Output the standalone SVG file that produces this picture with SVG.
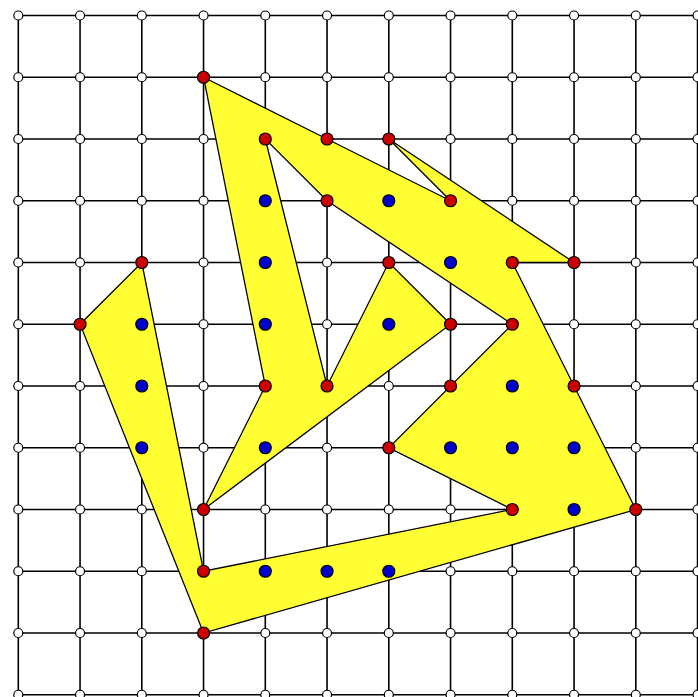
<svg xmlns="http://www.w3.org/2000/svg" width="698" height="697" viewBox="0 0 698 697">
<style>
.g{stroke:#000;stroke-width:1.6;fill:none}
.poly{fill:#ffff33;stroke:#000;stroke-width:1.3;stroke-linejoin:miter}
.w{fill:#fff;stroke:#000;stroke-width:1.2}
.r{fill:#cc0000;stroke:#000;stroke-width:1.2}
.b{fill:#0000cc;stroke:#000;stroke-width:1.2}
</style>
<rect width="698" height="697" fill="#fff"/>
<g id="grid" class="g">
<path d="M18.3 15.5H698M18.3 77.25H698M18.3 139H698M18.3 200.75H698M18.3 262.5H698M18.3 324.25H698M18.3 386H698M18.3 447.75H698M18.3 509.5H698M18.3 571.25H698M18.3 633H698M18.3 694.75H698"/>
<path d="M18.3 15.5V697M80.05 15.5V697M141.8 15.5V697M203.55 15.5V697M265.3 15.5V697M327.05 15.5V697M388.8 15.5V697M450.55 15.5V697M512.3 15.5V697M574.05 15.5V697M635.8 15.5V697M697.55 15.5V697"/>
</g>
<g id="polygon">
<polygon class="poly" points="203.55,77.25 327.05,139 450.55,200.75 388.8,139 574.05,262.5 512.3,262.5 635.8,509.5 203.55,633 80.05,324.25 141.8,262.5 203.55,571.25 512.3,509.5 388.8,447.75 512.3,324.25 327.05,200.75 265.3,139 327.05,386 388.8,262.5 450.55,324.25 203.55,509.5 265.3,386"/>
</g>
<g id="white-points" class="w">
<circle cx="18.3" cy="15.5" r="4.5"/><circle cx="80.05" cy="15.5" r="4.5"/><circle cx="141.8" cy="15.5" r="4.5"/><circle cx="203.55" cy="15.5" r="4.5"/><circle cx="265.3" cy="15.5" r="4.5"/><circle cx="327.05" cy="15.5" r="4.5"/><circle cx="388.8" cy="15.5" r="4.5"/><circle cx="450.55" cy="15.5" r="4.5"/><circle cx="512.3" cy="15.5" r="4.5"/><circle cx="574.05" cy="15.5" r="4.5"/><circle cx="635.8" cy="15.5" r="4.5"/><circle cx="697.55" cy="15.5" r="4.5"/>
<circle cx="18.3" cy="77.25" r="4.5"/><circle cx="80.05" cy="77.25" r="4.5"/><circle cx="141.8" cy="77.25" r="4.5"/><circle cx="265.3" cy="77.25" r="4.5"/><circle cx="327.05" cy="77.25" r="4.5"/><circle cx="388.8" cy="77.25" r="4.5"/><circle cx="450.55" cy="77.25" r="4.5"/><circle cx="512.3" cy="77.25" r="4.5"/><circle cx="574.05" cy="77.25" r="4.5"/><circle cx="635.8" cy="77.25" r="4.5"/><circle cx="697.55" cy="77.25" r="4.5"/>
<circle cx="18.3" cy="139" r="4.5"/><circle cx="80.05" cy="139" r="4.5"/><circle cx="141.8" cy="139" r="4.5"/><circle cx="203.55" cy="139" r="4.5"/><circle cx="450.55" cy="139" r="4.5"/><circle cx="512.3" cy="139" r="4.5"/><circle cx="574.05" cy="139" r="4.5"/><circle cx="635.8" cy="139" r="4.5"/><circle cx="697.55" cy="139" r="4.5"/>
<circle cx="18.3" cy="200.75" r="4.5"/><circle cx="80.05" cy="200.75" r="4.5"/><circle cx="141.8" cy="200.75" r="4.5"/><circle cx="203.55" cy="200.75" r="4.5"/><circle cx="512.3" cy="200.75" r="4.5"/><circle cx="574.05" cy="200.75" r="4.5"/><circle cx="635.8" cy="200.75" r="4.5"/><circle cx="697.55" cy="200.75" r="4.5"/>
<circle cx="18.3" cy="262.5" r="4.5"/><circle cx="80.05" cy="262.5" r="4.5"/><circle cx="203.55" cy="262.5" r="4.5"/><circle cx="327.05" cy="262.5" r="4.5"/><circle cx="635.8" cy="262.5" r="4.5"/><circle cx="697.55" cy="262.5" r="4.5"/>
<circle cx="18.3" cy="324.25" r="4.5"/><circle cx="203.55" cy="324.25" r="4.5"/><circle cx="327.05" cy="324.25" r="4.5"/><circle cx="574.05" cy="324.25" r="4.5"/><circle cx="635.8" cy="324.25" r="4.5"/><circle cx="697.55" cy="324.25" r="4.5"/>
<circle cx="18.3" cy="386" r="4.5"/><circle cx="80.05" cy="386" r="4.5"/><circle cx="203.55" cy="386" r="4.5"/><circle cx="388.8" cy="386" r="4.5"/><circle cx="635.8" cy="386" r="4.5"/><circle cx="697.55" cy="386" r="4.5"/>
<circle cx="18.3" cy="447.75" r="4.5"/><circle cx="80.05" cy="447.75" r="4.5"/><circle cx="203.55" cy="447.75" r="4.5"/><circle cx="327.05" cy="447.75" r="4.5"/><circle cx="635.8" cy="447.75" r="4.5"/><circle cx="697.55" cy="447.75" r="4.5"/>
<circle cx="18.3" cy="509.5" r="4.5"/><circle cx="80.05" cy="509.5" r="4.5"/><circle cx="141.8" cy="509.5" r="4.5"/><circle cx="265.3" cy="509.5" r="4.5"/><circle cx="327.05" cy="509.5" r="4.5"/><circle cx="388.8" cy="509.5" r="4.5"/><circle cx="450.55" cy="509.5" r="4.5"/><circle cx="697.55" cy="509.5" r="4.5"/>
<circle cx="18.3" cy="571.25" r="4.5"/><circle cx="80.05" cy="571.25" r="4.5"/><circle cx="141.8" cy="571.25" r="4.5"/><circle cx="450.55" cy="571.25" r="4.5"/><circle cx="512.3" cy="571.25" r="4.5"/><circle cx="574.05" cy="571.25" r="4.5"/><circle cx="635.8" cy="571.25" r="4.5"/><circle cx="697.55" cy="571.25" r="4.5"/>
<circle cx="18.3" cy="633" r="4.5"/><circle cx="80.05" cy="633" r="4.5"/><circle cx="141.8" cy="633" r="4.5"/><circle cx="265.3" cy="633" r="4.5"/><circle cx="327.05" cy="633" r="4.5"/><circle cx="388.8" cy="633" r="4.5"/><circle cx="450.55" cy="633" r="4.5"/><circle cx="512.3" cy="633" r="4.5"/><circle cx="574.05" cy="633" r="4.5"/><circle cx="635.8" cy="633" r="4.5"/><circle cx="697.55" cy="633" r="4.5"/>
<circle cx="18.3" cy="694.75" r="4.5"/><circle cx="80.05" cy="694.75" r="4.5"/><circle cx="141.8" cy="694.75" r="4.5"/><circle cx="203.55" cy="694.75" r="4.5"/><circle cx="265.3" cy="694.75" r="4.5"/><circle cx="327.05" cy="694.75" r="4.5"/><circle cx="388.8" cy="694.75" r="4.5"/><circle cx="450.55" cy="694.75" r="4.5"/><circle cx="512.3" cy="694.75" r="4.5"/><circle cx="574.05" cy="694.75" r="4.5"/><circle cx="635.8" cy="694.75" r="4.5"/><circle cx="697.55" cy="694.75" r="4.5"/>
</g>
<g id="boundary-points" class="r">
<circle cx="203.55" cy="77.25" r="6"/>
<circle cx="265.3" cy="139" r="6"/><circle cx="327.05" cy="139" r="6"/><circle cx="388.8" cy="139" r="6"/>
<circle cx="327.05" cy="200.75" r="6"/><circle cx="450.55" cy="200.75" r="6"/>
<circle cx="141.8" cy="262.5" r="6"/><circle cx="388.8" cy="262.5" r="6"/><circle cx="512.3" cy="262.5" r="6"/><circle cx="574.05" cy="262.5" r="6"/>
<circle cx="80.05" cy="324.25" r="6"/><circle cx="450.55" cy="324.25" r="6"/><circle cx="512.3" cy="324.25" r="6"/>
<circle cx="265.3" cy="386" r="6"/><circle cx="327.05" cy="386" r="6"/><circle cx="450.55" cy="386" r="6"/><circle cx="574.05" cy="386" r="6"/>
<circle cx="388.8" cy="447.75" r="6"/>
<circle cx="203.55" cy="509.5" r="6"/><circle cx="512.3" cy="509.5" r="6"/><circle cx="635.8" cy="509.5" r="6"/>
<circle cx="203.55" cy="571.25" r="6"/>
<circle cx="203.55" cy="633" r="6"/>
</g>
<g id="interior-points" class="b">
<circle cx="265.3" cy="200.75" r="6"/><circle cx="388.8" cy="200.75" r="6"/>
<circle cx="265.3" cy="262.5" r="6"/><circle cx="450.55" cy="262.5" r="6"/>
<circle cx="141.8" cy="324.25" r="6"/><circle cx="265.3" cy="324.25" r="6"/><circle cx="388.8" cy="324.25" r="6"/>
<circle cx="141.8" cy="386" r="6"/><circle cx="512.3" cy="386" r="6"/>
<circle cx="141.8" cy="447.75" r="6"/><circle cx="265.3" cy="447.75" r="6"/><circle cx="450.55" cy="447.75" r="6"/><circle cx="512.3" cy="447.75" r="6"/><circle cx="574.05" cy="447.75" r="6"/>
<circle cx="574.05" cy="509.5" r="6"/>
<circle cx="265.3" cy="571.25" r="6"/><circle cx="327.05" cy="571.25" r="6"/><circle cx="388.8" cy="571.25" r="6"/>
</g>
</svg>
